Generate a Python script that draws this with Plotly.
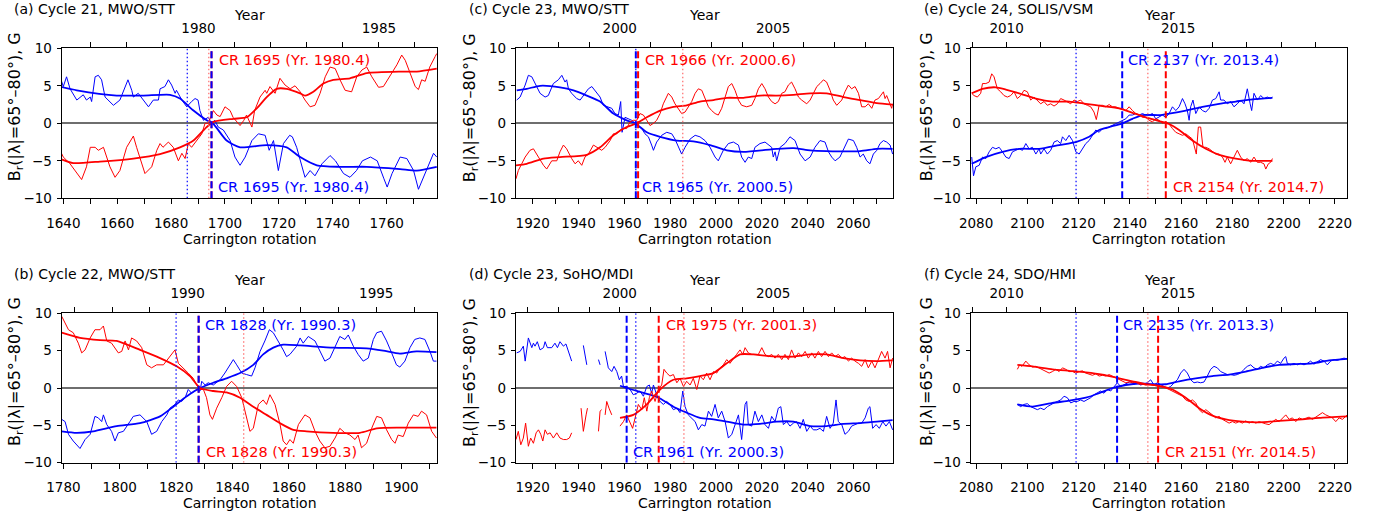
import plotly.graph_objects as go

W, H = 1379, 518
FONT = "DejaVu Sans"
BLUE = "#0000ff"
RED = "#ff0000"
RED_LIGHT = "#ff6a6a"

# ---------------- data: panel (a) Cycle 21, MWO/STT ----------------
A_BLUE_RAW_CR = [1638.8, 1640, 1641.2, 1642.5, 1645, 1647.4, 1648.6, 1650, 1650.5, 1651.8, 1653, 1654.2, 1655.5, 1658.6, 1661, 1664, 1665.4, 1666, 1667.8, 1671.6, 1673.4, 1675.3, 1675.9, 1677.7, 1679, 1680.2, 1681.5, 1682, 1684, 1685.8, 1687.6, 1688.9, 1690, 1690.7, 1692, 1693.8, 1695, 1696.2, 1697.5, 1699.4, 1701.9, 1703.7, 1705.6, 1707.5, 1710, 1712.4, 1714.9, 1716.4, 1718, 1719.8, 1721.7, 1724, 1725, 1726.6, 1729.7, 1731.6, 1733.4, 1736, 1739, 1741, 1744, 1746.4, 1748.8, 1751, 1754, 1756.5, 1759, 1760.2, 1762, 1765, 1767.5, 1770, 1771.8, 1773.7, 1776, 1777.4, 1778.6]
A_BLUE_RAW_B = [6.2, 4.9, 6.2, 4.6, 3.1, 3.8, 3.1, 3.5, 2.9, 6.2, 6.4, 5.8, 3.5, 2.4, 3.1, 5.8, 4.4, 3.5, 4.0, 2.2, 3.1, 3.1, 4.6, 4.9, 5.8, 5.1, 4.0, 4.4, 3.1, 2.2, 2.9, 3.3, 3.1, 1.7, 0.4, 0.8, 0.0, 0.4, -0.5, -0.9, -2.3, -4.5, -5.6, -4.5, -2.3, -1.4, -1.6, -3.6, -2.3, -6.3, -2.7, -1.6, -1.8, -3.2, -7.2, -6.3, -7.0, -5.4, -4.3, -5.0, -6.7, -7.2, -6.3, -5.0, -4.5, -5.0, -7.4, -8.5, -6.7, -4.5, -4.7, -6.3, -8.8, -7.2, -5.4, -4.0, -4.5]
A_BLUE_FIT_CR = [1638.5, 1645, 1659.8, 1669.7, 1679.6, 1683.3, 1688.3, 1693.2, 1695.7, 1700.6, 1705.6, 1715.5, 1722.9, 1727.9, 1734.1, 1742.7, 1752.6, 1765, 1771.2, 1778.6]
A_BLUE_FIT_B = [4.9, 4.4, 3.7, 3.7, 3.8, 3.3, 1.7, 0.4, -0.1, -2.3, -3.2, -2.9, -3.2, -4.5, -5.6, -5.8, -5.8, -6.1, -6.3, -5.8]
A_RED_RAW_CR = [1638.5, 1640, 1642.5, 1645, 1646.8, 1648.6, 1650, 1651.8, 1653, 1654.9, 1657.3, 1659.2, 1661, 1663.5, 1666, 1667.2, 1669, 1670.3, 1672.8, 1674.7, 1675.9, 1677, 1679, 1680.8, 1682.7, 1684, 1685.2, 1686.4, 1687.6, 1689.5, 1691.4, 1692.6, 1693.8, 1695.7, 1697, 1698.2, 1700, 1701.9, 1703, 1705.6, 1707, 1708, 1710, 1711, 1713, 1714.9, 1715.5, 1716.7, 1718.6, 1720.4, 1722.3, 1724.2, 1726, 1727.9, 1729.7, 1731.6, 1733.4, 1735.3, 1737.2, 1739, 1740.9, 1742.7, 1744.6, 1747, 1748.9, 1750.8, 1752.6, 1754.5, 1757, 1758.8, 1761.3, 1763.8, 1765.6, 1766.9, 1768.7, 1770.6, 1771.8, 1773, 1774.3, 1776, 1778, 1778.6]
A_RED_RAW_B = [-3.4, -4.5, -5.4, -6.7, -7.5, -5.8, -3.2, -3.2, -3.6, -3.2, -5.8, -7.2, -6.3, -3.2, -1.7, -3.2, -5.4, -6.7, -5.8, -3.6, -2.7, -3.2, -2.5, -3.2, -5.0, -4.0, -4.7, -2.7, -3.2, -2.3, -1.4, 0.0, 0.0, 1.7, 1.1, 0.9, 2.2, 1.7, 0.8, -0.3, 0.4, 1.1, -0.5, 1.7, 3.5, 4.4, 4.0, 4.9, 4.0, 6.0, 5.1, 4.6, 5.0, 4.2, 3.1, 2.2, 2.4, 4.0, 6.2, 7.5, 7.3, 5.8, 4.4, 4.2, 6.2, 7.1, 7.5, 6.2, 4.8, 4.9, 6.4, 7.8, 9.1, 8.4, 6.7, 4.9, 4.5, 5.8, 5.6, 7.5, 8.9, 9.3]
A_RED_FIT_CR = [1638.5, 1643.7, 1653.6, 1666, 1675.9, 1683.3, 1688.3, 1693.2, 1695.7, 1703.1, 1708.1, 1711.8, 1715.5, 1719.2, 1722.9, 1727.9, 1729.7, 1732.8, 1736.5, 1740.2, 1746.4, 1752.6, 1765, 1771.2, 1778.6]
A_RED_FIT_B = [-4.7, -5.3, -5.1, -4.7, -4.1, -3.2, -2.3, -0.5, 0.2, 0.6, 0.8, 2.0, 3.5, 4.6, 4.6, 4.0, 3.7, 4.2, 5.3, 5.8, 6.0, 6.7, 6.9, 6.9, 7.3]

# ---------------- data: panel (b) Cycle 22, MWO/STT ----------------
B_BLUE_RAW_CR = [1779.4, 1780.6, 1781.8, 1783.5, 1785.9, 1787.7, 1789.5, 1791.2, 1792.4, 1793.6, 1794.2, 1795.4, 1797.1, 1798.3, 1799.5, 1801.3, 1803.6, 1804.8, 1807.2, 1809.6, 1811.3, 1813.1, 1814.9, 1816.7, 1817.8, 1819.6, 1820.8, 1822, 1823.2, 1824.3, 1825.5, 1827.3, 1828.5, 1829.1, 1830.3, 1831.4, 1833.2, 1835.6, 1837.3, 1839.1, 1840.3, 1841.5, 1843.3, 1845, 1846.8, 1848, 1849.8, 1851.5, 1853.1, 1854.5, 1856.3, 1858, 1859.2, 1860.4, 1862.8, 1864, 1865.1, 1866.9, 1869.3, 1871, 1872.8, 1874.6, 1876.4, 1878.1, 1879.9, 1881.1, 1882.9, 1884.6, 1886.4, 1888.2, 1890, 1891.2, 1892.9, 1894.7, 1896.5, 1898.2, 1899.4, 1901.2, 1903, 1904.7, 1906.5, 1908.3, 1910.1, 1911.3, 1912.4]
B_BLUE_RAW_B = [-4.2, -4.5, -6.2, -7.1, -8.1, -6.9, -6.2, -3.8, -4.0, -4.5, -3.6, -4.9, -5.8, -7.1, -6.0, -5.8, -4.5, -3.8, -3.6, -4.5, -6.2, -5.8, -4.5, -3.6, -2.7, -2.2, -1.6, -1.8, -1.3, -0.2, -0.7, -0.2, -0.4, 0.9, 0.4, 0.7, 0.4, 1.1, 2.0, 3.1, 3.8, 3.1, 2.0, 1.8, 1.6, 2.7, 4.9, 6.3, 7.8, 7.4, 6.3, 5.1, 4.2, 4.5, 5.6, 6.7, 6.0, 6.9, 6.3, 4.9, 3.6, 4.0, 5.6, 6.9, 6.5, 7.1, 5.6, 4.5, 3.6, 4.0, 6.5, 7.4, 7.6, 6.3, 4.7, 3.1, 2.8, 3.6, 5.4, 6.5, 6.7, 6.5, 4.9, 3.6, 3.6]
B_BLUE_FIT_CR = [1779.4, 1784.7, 1790.6, 1798.9, 1807.2, 1814.3, 1819, 1823.8, 1828.5, 1833.2, 1837.9, 1842.7, 1847.4, 1850.9, 1854.5, 1858, 1864, 1875.8, 1887.6, 1893.5, 1899.4, 1905.3, 1912.4]
B_BLUE_FIT_B = [-5.8, -6.0, -5.8, -5.1, -4.7, -3.8, -2.5, -1.1, 0.0, 0.7, 1.3, 2.0, 3.1, 4.5, 5.4, 5.8, 5.7, 5.4, 5.3, 5.0, 4.6, 4.9, 4.8]
B_RED_RAW_CR = [1779.4, 1780.6, 1781.8, 1783.5, 1785.3, 1786.5, 1787.7, 1789.5, 1791.2, 1793, 1794.2, 1795.4, 1797.1, 1799.5, 1800.7, 1801.9, 1803.1, 1804.2, 1806, 1807.8, 1809.6, 1811.3, 1813.1, 1815.5, 1817.2, 1818.4, 1819.6, 1820.8, 1822.6, 1824.3, 1826.1, 1827.3, 1828.5, 1829.7, 1830.8, 1832, 1832.9, 1834.4, 1836.2, 1837.9, 1839.7, 1841.5, 1843.3, 1845, 1846.2, 1847.4, 1849.2, 1850.9, 1852.1, 1853.3, 1855.1, 1856.9, 1858, 1859.2, 1860.4, 1861.6, 1863.4, 1865.7, 1867.5, 1869.3, 1871, 1872.8, 1874.6, 1876.4, 1878.1, 1879.9, 1881.7, 1883.5, 1884.6, 1885.8, 1887.6, 1889.4, 1891.2, 1892.9, 1894.7, 1896.5, 1897.7, 1898.8, 1900.6, 1902.4, 1904.2, 1905.9, 1907.1, 1908.9, 1910.7, 1912.4]
B_RED_RAW_B = [9.6, 8.7, 7.8, 7.4, 6.0, 4.7, 5.1, 6.7, 7.8, 7.8, 8.3, 6.3, 6.0, 4.7, 4.9, 6.3, 5.1, 6.7, 6.3, 5.4, 3.1, 2.7, 3.1, 3.1, 4.0, 4.5, 5.1, 3.3, 2.7, 2.0, 1.3, 0.4, -0.2, -0.2, -1.3, -3.6, -4.2, -2.7, -1.3, 0.2, 0.9, 0.2, -1.3, -4.0, -5.8, -5.4, -2.2, -1.6, -2.2, -0.9, -2.2, -4.9, -7.1, -7.6, -6.9, -7.4, -4.9, -3.6, -4.0, -5.8, -7.1, -8.0, -7.8, -6.7, -5.4, -6.0, -6.3, -6.9, -6.3, -8.0, -7.4, -5.4, -3.8, -4.0, -5.6, -6.9, -7.4, -6.3, -6.5, -4.7, -3.6, -3.8, -3.1, -3.6, -5.8, -6.7]
B_RED_FIT_CR = [1779.4, 1785.9, 1793, 1798.9, 1807.2, 1814.3, 1820.2, 1824.9, 1828.5, 1833.2, 1837.9, 1842.7, 1847.4, 1852.1, 1856.8, 1861.6, 1866.3, 1875.8, 1885.2, 1891.2, 1899.4, 1912.4]
B_RED_FIT_B = [7.4, 6.7, 6.4, 6.3, 5.1, 4.0, 2.9, 1.6, 0.0, -0.4, -0.6, -1.3, -2.5, -3.6, -4.7, -5.6, -5.8, -6.0, -6.0, -5.4, -5.3, -5.3]

# ---------------- data: panel (c) Cycle 23, MWO/STT ----------------
C_BLUE_RAW_CR = [1913, 1914.5, 1916.7, 1918.1, 1919.6, 1921, 1923.2, 1925.4, 1926.8, 1929, 1931.2, 1932.7, 1934.1, 1934.8, 1935.6, 1937, 1939.2, 1940.7, 1942.8, 1944.3, 1945.8, 1947.2, 1949.4, 1950.8, 1953, 1954.5, 1955.9, 1957.4, 1958.4, 1959, 1960.3, 1961.8, 1963.2, 1964.7, 1966.1, 1967.6, 1969, 1970.5, 1971.9, 1972.7, 1974.1, 1976.3, 1978.5, 1980.7, 1982.1, 1983.6, 1985, 1986.5, 1988.7, 1990.9, 1993, 1995.2, 1997.4, 1999.6, 2001, 2003.2, 2005.4, 2007.6, 2009.8, 2011.2, 2012.7, 2014.1, 2015.6, 2017, 2019.2, 2021.4, 2022.9, 2024.3, 2025, 2025.8, 2026.5, 2028, 2030.1, 2032.3, 2034.5, 2036.7, 2038.9, 2041.1, 2043.2, 2045.4, 2047.6, 2049.1, 2050.5, 2052, 2054.1, 2056.3, 2057.8, 2060, 2061.4, 2062.9, 2064.3, 2065.8, 2067.2, 2068.7, 2070.2, 2071.6, 2073.1, 2074.5, 2076, 2077.1]
C_BLUE_RAW_B = [3.1, 3.5, 5.1, 6.4, 6.2, 5.3, 4.0, 3.5, 3.7, 5.3, 5.8, 6.4, 5.5, 5.8, 4.6, 4.0, 3.3, 3.1, 4.0, 4.6, 4.9, 4.4, 3.5, 2.4, 2.2, 2.0, 1.3, 1.1, 2.9, -1.2, 0.8, 0.6, 0.4, 0.0, -0.3, -0.7, -1.4, -1.8, -2.9, -3.6, -2.5, -1.6, -1.2, -1.4, -2.1, -3.2, -4.1, -3.2, -2.1, -1.6, -1.8, -2.3, -3.2, -4.5, -5.0, -3.6, -2.7, -2.5, -2.9, -4.5, -5.2, -4.5, -4.7, -3.2, -2.7, -2.5, -2.9, -3.2, -4.5, -3.8, -5.0, -3.2, -2.7, -1.8, -2.3, -4.1, -5.0, -4.5, -3.2, -2.3, -2.5, -3.8, -4.5, -5.0, -4.5, -3.2, -2.1, -2.3, -3.2, -4.5, -4.1, -5.0, -5.4, -4.1, -3.6, -2.7, -2.3, -2.5, -2.9, -4.1]
C_BLUE_FIT_CR = [1913, 1917.4, 1923.2, 1931.9, 1937.8, 1943.6, 1949.4, 1955.2, 1961, 1964.7, 1969.8, 1975.6, 1982.9, 1990.1, 1997.4, 2004.7, 2012, 2026.5, 2033.8, 2041.1, 2048.3, 2062.9, 2070.2, 2077.1]
C_BLUE_FIT_B = [4.4, 4.6, 5.0, 4.8, 4.4, 3.7, 2.9, 1.3, 0.4, 0.0, -1.2, -1.8, -2.3, -2.4, -2.9, -3.6, -3.8, -3.4, -3.3, -3.6, -3.7, -3.7, -3.4, -3.4]
C_RED_RAW_CR = [1912.7, 1913.7, 1915.2, 1916.7, 1918.8, 1920.3, 1922.5, 1924.7, 1926.1, 1928.3, 1930.5, 1931.9, 1933.4, 1934.8, 1937, 1938.5, 1939.9, 1941.4, 1942.8, 1944.3, 1946.5, 1947.9, 1950.1, 1951.6, 1953.8, 1955.2, 1956.7, 1958.1, 1959.6, 1961, 1962.5, 1963.9, 1965.4, 1966.8, 1968.3, 1969.8, 1971.2, 1972.7, 1974.1, 1975.6, 1977, 1979.2, 1980.7, 1982.1, 1983.6, 1985, 1986.5, 1987.9, 1989.4, 1990.9, 1992.3, 1993.8, 1995.2, 1996.7, 1998.1, 1999.6, 2001, 2002.5, 2004, 2005.4, 2006.9, 2008.3, 2009.8, 2011.2, 2013.4, 2015.6, 2017, 2018.5, 2020, 2021.4, 2022.9, 2024.3, 2025.8, 2027.2, 2028.7, 2030.1, 2031.6, 2033, 2034.5, 2036, 2037.4, 2039.6, 2041.1, 2042.5, 2044, 2045.4, 2046.9, 2048.3, 2049.8, 2051.2, 2052.7, 2054.9, 2056.3, 2057.8, 2059.2, 2060.7, 2062.2, 2063.6, 2065.1, 2066.5, 2068, 2069.4, 2070.9, 2073.1, 2073.8, 2074.5, 2076, 2076.7, 2077.1]
C_RED_RAW_B = [-7.4, -6.3, -5.4, -4.5, -3.6, -3.4, -4.5, -5.6, -6.1, -5.0, -5.0, -3.8, -2.9, -3.4, -4.7, -5.4, -5.0, -5.6, -4.5, -4.1, -2.9, -3.2, -3.6, -3.2, -2.3, -1.4, -1.4, -0.9, -0.7, -0.7, 0.2, 0.4, 0.4, 1.3, 1.1, 0.4, -0.3, 0.0, 0.4, 1.3, 2.6, 4.0, 3.5, 2.6, 2.0, 1.3, 1.5, 2.2, 2.9, 4.0, 4.6, 4.4, 3.3, 2.2, 1.7, 1.3, 1.1, 2.0, 3.5, 4.9, 5.3, 4.4, 3.1, 2.4, 2.2, 2.4, 3.3, 4.6, 5.3, 4.6, 3.5, 2.9, 2.6, 2.9, 4.0, 4.2, 5.1, 5.5, 4.6, 3.5, 3.1, 2.6, 3.1, 4.0, 4.9, 5.3, 5.8, 5.5, 4.4, 3.1, 2.4, 3.1, 4.2, 5.1, 4.6, 4.9, 4.0, 2.2, 2.2, 2.6, 2.0, 3.1, 3.3, 4.2, 3.3, 3.7, 2.6, 2.0, 2.6]
C_RED_FIT_CR = [1912.7, 1917.4, 1924.7, 1931.9, 1943.6, 1949.4, 1955.2, 1961, 1965.4, 1969.8, 1975.6, 1981.4, 1987.2, 1993, 1998.9, 2004.7, 2012, 2019.2, 2026.5, 2033.8, 2041.1, 2048.3, 2055.6, 2062.9, 2070.2, 2077.1]
C_RED_FIT_B = [-5.6, -5.4, -4.7, -4.5, -4.2, -3.2, -1.6, -0.5, 0.0, 0.8, 1.7, 2.2, 2.4, 2.9, 3.1, 3.4, 3.4, 3.7, 3.7, 3.8, 4.0, 4.0, 3.5, 3.1, 2.7, 2.5]

# ---------------- data: panel (d) Cycle 23, SoHO/MDI (None = data gap) ----------------
D_BLUE_RAW_CR = [1913, 1914.5, 1915.9, 1916.7, 1918.1, 1919.6, 1920.3, 1921, 1922, 1923.2, 1924.7, 1925.4, 1926.4, 1928.3, 1929.7, 1930.8, 1931.9, 1933.4, 1934.5, 1935.6, 1937, 1939.5,
                 1942.1, 1943.6, 1946,
                 1948.7, 1949.4, 1950.5,
                 1951.6, 1953, 1954.5, 1955.5, 1956.7, 1957.8, 1958.8, 1959.6, 1961, 1962.5, 1963.9, 1965.4, 1966.8, 1968.3, 1969.8, 1970.9, 1971.9, 1972.7, 1974.1, 1975.6, 1977, 1978.5, 1979.9, 1981.4, 1982.9, 1984.3, 1985.5, 1986.5, 1987.9, 1989.4, 1990.9, 1992.3, 1993.8, 1995.2, 1996.7, 1998.1, 1999.6, 2001, 2002.5, 2004, 2005.4, 2006.9, 2008.3, 2009.8, 2011.2, 2012.7, 2013.4, 2014.1, 2015.6, 2017, 2018.5, 2020, 2021.4, 2022.9, 2024.3, 2025.8, 2027.2, 2028.3, 2029.4, 2030.9, 2032.3, 2033.8, 2035.2, 2036.7, 2038.1, 2039.6, 2041.1, 2042.5, 2044, 2045.4, 2046.9, 2048.3, 2049.8, 2051.2, 2052.4, 2053.4, 2054.9, 2056.3, 2057.8, 2059.2, 2060.7, 2062.2, 2063.6, 2065.1, 2066.5, 2067.2, 2068.4, 2069.9, 2071.3, 2072.8, 2074.2, 2075.7, 2077.1]
D_BLUE_RAW_B = [4.7, 4.9, 5.6, 3.6, 6.7, 5.4, 6.0, 5.6, 6.2, 5.1, 5.4, 6.2, 5.4, 5.4, 6.0, 5.4, 6.2, 5.6, 5.9, 4.9, 3.6, None,
                5.7, 3.1, None,
                3.8, 3.1, None,
                4.9, 2.7, 2.2, 2.9, 2.2, 1.1, 1.6, 0.2, 0.2, -0.2, -0.9, -0.7, -0.4, -1.1, 0.2, 0.4, -0.7, 0.4, -0.9, -1.8, -2.2, -1.8, -2.2, -2.9, -2.7, -3.3, -0.4, -2.5, -3.6, -4.0, -4.5, -5.6, -4.9, -5.1, -3.1, -3.8, -2.2, -4.0, -3.1, -4.5, -6.7, -6.2, -4.9, -3.6, -6.9, -2.2, -1.8, -4.9, -5.1, -3.1, -4.5, -3.6, -4.9, -5.4, -3.8, -4.5, -2.7, -2.5, -4.9, -4.5, -5.1, -4.7, -4.5, -5.4, -4.2, -5.8, -5.1, -5.6, -5.6, -5.4, -5.8, -3.8, -5.4, -4.7, -1.6, -4.5, -4.9, -6.2, -5.8, -5.1, -4.9, -4.7, -4.7, -4.0, -2.7, -2.5, -5.4, -4.9, -5.4, -4.5, -5.1, -4.5, -5.6]
D_BLUE_FIT_CR = [1958.1, 1961, 1965.4, 1971.2, 1975.6, 1981.4, 1987.2, 1993, 1998.9, 2004.7, 2012, 2019.2, 2026.5, 2033.8, 2041.1, 2048.3, 2055.6, 2062.9, 2070.2, 2077.1]
D_BLUE_FIT_B = [0.3, 0.0, -0.4, -0.9, -1.4, -2.5, -3.3, -4.0, -4.2, -4.5, -4.9, -4.8, -4.5, -4.5, -5.1, -5.1, -4.8, -4.7, -4.5, -4.3]
D_RED_RAW_CR = [1912.7, 1913.7, 1914.8, 1915.9, 1916.9, 1918.1, 1919.1, 1920.3, 1921.5, 1922.5, 1923.5, 1924.4, 1925.4, 1926.4, 1927.6, 1929, 1930.5, 1931.9, 1933.4, 1934.8, 1936, 1937, 1939,
                1941.1, 1942.1, 1943.3, 1943.9, 1946,
                1948.7, 1949.4, 1950.1, 1950.8,
                1951.6, 1952.3, 1953.3, 1954.5, 1956,
                1958.1, 1959.6, 1961, 1962.5, 1963.6, 1964.7, 1966.1, 1967.6, 1968.7, 1969.8, 1970.9, 1971.9, 1973.4, 1974.9, 1976.3, 1977.3, 1978.5, 1979.9, 1981.4, 1982.9, 1984.3, 1985.8, 1987.2, 1988.7, 1990.1, 1991.6, 1993, 1994.5, 1995.9, 1997.4, 1998.9, 2000.3, 2001.8, 2003.2, 2004.7, 2006.1, 2007.6, 2009, 2010.5, 2011.7, 2012.7, 2014.1, 2015.6, 2017, 2018.5, 2020, 2021.4, 2022.9, 2024.3, 2025.8, 2027.2, 2028.7, 2030.1, 2031.6, 2033, 2034.5, 2036, 2037.4, 2038.9, 2040.3, 2041.8, 2043.2, 2044.7, 2046.1, 2047.6, 2049.1, 2050.5, 2052, 2053.4, 2054.9, 2056.3, 2057.8, 2059.2, 2060.7, 2062.2, 2063.6, 2065.1, 2066.5, 2068, 2069.4, 2070.9, 2072.3, 2073.8, 2074.9, 2076, 2077.1]
D_RED_RAW_B = [-6.9, -5.8, -7.6, -6.7, -4.7, -7.8, -6.7, -7.4, -6.0, -5.6, -6.2, -7.1, -5.6, -6.2, -6.0, -6.7, -6.0, -6.7, -6.9, -6.9, -6.7, -6.0, None,
               -2.7, -5.8, -3.6, -2.7, None,
               -5.8, -3.1, -2.9, None,
               -3.6, -1.8, -2.7, -3.6, None,
               -5.1, -4.5, -3.6, -4.7, -5.4, -4.0, -2.2, -2.9, -1.3, -3.1, -1.3, -0.4, -1.8, -0.2, 0.4, 2.5, 2.0, 1.6, 1.8, 0.7, 1.3, 0.2, 0.9, 0.4, 1.3, -0.2, 1.6, 1.1, 2.0, 1.1, 2.2, 2.0, 2.7, 3.1, 3.8, 3.3, 4.0, 4.5, 5.1, 4.5, 5.4, 4.7, 4.5, 4.5, 4.5, 5.4, 4.5, 4.2, 4.5, 4.0, 4.5, 3.8, 4.5, 3.8, 5.1, 4.0, 4.7, 4.2, 4.9, 4.0, 4.7, 4.0, 4.9, 4.2, 4.9, 4.2, 4.7, 4.2, 4.5, 4.0, 4.2, 3.6, 4.0, 3.6, 3.3, 2.9, 3.8, 2.7, 3.6, 2.7, 3.8, 4.9, 4.0, 4.9, 2.7, 4.0]
D_RED_FIT_CR = [1958.1, 1963.9, 1969.8, 1975.6, 1981.4, 1987.2, 1993, 1998.9, 2004.7, 2010.5, 2016.3, 2022.1, 2033.8, 2041.1, 2048.3, 2055.6, 2062.9, 2070.2, 2077.1]
D_RED_FIT_B = [-4.0, -3.6, -2.2, -0.2, 1.1, 1.3, 1.6, 2.0, 3.3, 4.5, 4.5, 4.3, 4.2, 4.5, 4.5, 4.0, 3.7, 3.6, 3.7]

# ---------------- data: panel (e) Cycle 24, SOLIS/VSM ----------------
E_BLUE_RAW_CR = [2078.3, 2079, 2079.9, 2081.2, 2082.5, 2083.8, 2085.1, 2086.4, 2087.7, 2089, 2090.3, 2091.6, 2092.9, 2094.2, 2095.5, 2096.8, 2098.1, 2099.4, 2100.7, 2102, 2103.3, 2104.6, 2105.2, 2106.5, 2107.8, 2109.1, 2110.4, 2111.7, 2113, 2113.7, 2115, 2116.3, 2117.6, 2118.9, 2120.2, 2121.5, 2122.8, 2124.1, 2125.4, 2126.7, 2128, 2129.3, 2130.6, 2131.9, 2133.2, 2134.5, 2135.8, 2137.1, 2138.4, 2139.7, 2141, 2142.3, 2143.6, 2144.9, 2146.2, 2147.5, 2148.8, 2150.1, 2151.4, 2152.7, 2154, 2155.3, 2156.6, 2157.9, 2159.2, 2160.5, 2161.5, 2162.4, 2163.1, 2163.7, 2164.6, 2165.7, 2167, 2168.3, 2169.6, 2170.9, 2172.2, 2173.5, 2174.8, 2175.4, 2176.7, 2178, 2179.3, 2180.6, 2181.9, 2183.2, 2184.5, 2185.8, 2186.9, 2187.5, 2188.4, 2189.7, 2191, 2192.3, 2193.6, 2194.9, 2195.6]
E_BLUE_RAW_B = [-4.5, -7.0, -5.8, -5.6, -4.5, -4.7, -3.8, -3.2, -3.4, -3.2, -3.8, -4.5, -4.7, -3.8, -3.6, -3.4, -3.6, -2.7, -3.4, -3.2, -4.1, -3.4, -4.1, -3.4, -4.1, -3.6, -2.5, -2.3, -2.7, -1.8, -2.3, -1.6, -2.3, -3.8, -4.1, -3.4, -2.7, -2.3, -1.6, -0.9, -1.2, -0.7, -0.7, -0.5, -0.3, 0.0, 0.2, 0.4, 0.6, 1.1, 1.1, 1.3, 1.1, 1.3, 1.1, 1.1, 1.3, 0.6, 0.8, 1.1, 0.8, 1.3, 2.2, 1.7, 2.2, 3.3, 2.6, 1.7, 0.4, 2.2, 3.1, 1.3, 2.2, 1.7, 1.5, 2.0, 3.1, 3.3, 4.2, 3.1, 3.1, 2.6, 2.9, 2.2, 2.6, 3.1, 2.6, 4.6, 2.6, 1.7, 4.0, 3.1, 3.7, 3.3, 3.5, 3.3, 3.5]
E_BLUE_FIT_CR = [2078.3, 2083.8, 2090.3, 2096.8, 2104.6, 2112.4, 2118.9, 2124.1, 2128, 2131.9, 2137.1, 2141, 2144.9, 2151.4, 2155.3, 2161.8, 2168.3, 2174.8, 2181.3, 2187.8, 2195.6]
E_BLUE_FIT_B = [-5.4, -4.5, -3.8, -3.4, -3.4, -2.9, -2.5, -1.8, -0.9, -0.5, 0.0, 0.6, 1.1, 1.1, 1.3, 1.7, 2.2, 2.6, 2.9, 3.2, 3.4]
E_RED_RAW_CR = [2078.3, 2079.2, 2080.5, 2081.8, 2082.5, 2083.8, 2085.1, 2086.1, 2087, 2088.3, 2089.6, 2090.9, 2092.2, 2093.5, 2094.8, 2096.1, 2097.4, 2098.7, 2100, 2101.3, 2102.6, 2103.9, 2105.2, 2106.5, 2107.8, 2109.1, 2110.4, 2111.7, 2113, 2114.3, 2115.6, 2116.9, 2118.2, 2119.5, 2120.8, 2122.1, 2123.4, 2124.7, 2126, 2126.9, 2128, 2129.3, 2130.6, 2131.9, 2133.2, 2134.5, 2135.8, 2137.1, 2138.4, 2139.7, 2141, 2142.3, 2143.6, 2144.9, 2146.2, 2147.5, 2148.8, 2149.4, 2150.1, 2151.4, 2152.7, 2154, 2155.3, 2156.6, 2157.9, 2159.2, 2160.5, 2161.8, 2163.1, 2164.4, 2165, 2165.9, 2166.7, 2167.6, 2168.5, 2169.6, 2170.9, 2172.2, 2173.5, 2174.8, 2176.1, 2177.1, 2178, 2179.3, 2180.6, 2181.9, 2183.2, 2184.5, 2185.8, 2187.1, 2188.4, 2189.7, 2191, 2192.3, 2193, 2194, 2194.9, 2195.6]
E_RED_RAW_B = [4.0, 3.7, 3.5, 4.0, 5.3, 5.3, 5.5, 6.6, 6.2, 4.6, 4.2, 3.7, 3.5, 3.7, 4.2, 3.3, 3.7, 4.4, 4.2, 3.1, 3.5, 3.1, 2.6, 2.9, 2.4, 2.6, 2.3, 2.6, 3.3, 3.1, 2.9, 2.6, 3.1, 2.9, 3.1, 2.6, 2.4, 2.2, 1.5, 0.5, 2.4, 2.4, 2.2, 2.5, 2.2, 2.2, 2.0, 2.0, 1.7, 2.2, 1.7, 1.3, 1.1, 0.8, 0.8, 0.4, 0.2, 0.4, 0.6, 0.4, 0.0, 0.2, -0.1, -0.7, -1.2, -1.4, -1.6, -1.4, -1.8, -2.1, -2.9, -4.1, -0.5, -0.5, -3.2, -3.2, -3.4, -3.8, -4.1, -4.1, -4.5, -5.2, -4.5, -5.4, -4.5, -3.6, -4.5, -5.0, -4.7, -5.2, -4.5, -5.2, -5.2, -5.4, -6.1, -5.4, -5.2, -4.7]
E_RED_FIT_CR = [2078.3, 2082.5, 2087.7, 2091.6, 2096.8, 2103.3, 2109.8, 2116.3, 2122.8, 2129.3, 2135.8, 2141, 2146.2, 2151.4, 2155.3, 2159.2, 2164.4, 2169.6, 2174.8, 2181.3, 2187.8, 2195.6]
E_RED_FIT_B = [4.0, 4.6, 4.8, 4.5, 4.0, 3.3, 2.9, 2.9, 2.6, 2.3, 2.0, 1.4, 0.8, 0.3, -0.1, -0.9, -2.3, -3.4, -4.2, -4.7, -5.0, -5.0]

# ---------------- data: panel (f) Cycle 24, SDO/HMI ----------------
F_BLUE_RAW_CR = [2096.1, 2097.4, 2098.7, 2100, 2101.3, 2102.6, 2103.9, 2105.2, 2106.5, 2107.8, 2109.1, 2110.4, 2111.7, 2113, 2114.3, 2115.6, 2116.9, 2118.2, 2119.5, 2120.8, 2122.1, 2123.4, 2124.7, 2126, 2127.3, 2128.6, 2129.9, 2131.2, 2132.5, 2133.8, 2135.1, 2136.4, 2137.7, 2139, 2140.3, 2141.6, 2142.9, 2144.2, 2145.5, 2146.8, 2148.1, 2149.4, 2150.7, 2152, 2153.3, 2154.6, 2155.9, 2157.2, 2158.5, 2159.8, 2161.1, 2162.4, 2163.7, 2165, 2166.3, 2167.6, 2168.9, 2170.2, 2171.5, 2172.8, 2174.1, 2175.4, 2176.7, 2178, 2179.3, 2180.6, 2181.9, 2183.2, 2184.5, 2185.8, 2187.1, 2188.4, 2189.7, 2191, 2192.3, 2193.6, 2194.9, 2196.2, 2197.5, 2198.8, 2200.1, 2200.8, 2201.4, 2202.7, 2204, 2205.3, 2206.6, 2207.9, 2209.2, 2210.5, 2211.8, 2213.1, 2214.4, 2215.7, 2217, 2218.3, 2219.6, 2220.9, 2222.2, 2223.5, 2224.8]
F_BLUE_RAW_B = [-2.2, -2.5, -2.2, -2.1, -2.5, -2.7, -2.9, -2.7, -2.9, -2.5, -2.2, -2.0, -1.8, -1.6, -1.1, -1.3, -2.0, -1.8, -1.8, -1.6, -1.8, -1.6, -1.3, -0.9, -0.7, -0.4, -0.7, -0.2, -0.4, 0.2, 0.7, 0.2, 0.4, 0.7, 0.9, 0.5, 0.7, 0.4, 0.5, 0.7, 1.1, 0.4, 0.7, 0.4, 0.2, 0.0, 0.2, 0.7, 1.1, 2.0, 2.5, 2.0, 1.1, 0.7, 0.8, 0.7, 0.8, 1.6, 2.5, 2.9, 2.7, 2.2, 2.0, 1.8, 1.8, 1.7, 1.8, 2.0, 2.5, 2.9, 3.1, 2.7, 2.5, 2.9, 2.7, 3.1, 3.3, 3.1, 3.6, 3.3, 4.0, 4.2, 3.3, 3.1, 3.3, 3.1, 3.3, 3.1, 3.3, 3.6, 3.2, 3.5, 3.8, 3.6, 3.1, 3.6, 3.8, 3.7, 3.8, 4.0, 3.9]
F_BLUE_FIT_CR = [2096.1, 2102, 2109.8, 2116.3, 2122.8, 2128, 2133.2, 2138.4, 2143.6, 2148.8, 2154, 2159.2, 2165.7, 2172.2, 2178.7, 2185.2, 2191.7, 2198.2, 2204.7, 2211.2, 2217.7, 2224.8]
F_BLUE_FIT_B = [-2.2, -2.5, -2.0, -1.7, -1.3, -0.7, 0.0, 0.4, 0.6, 0.5, 0.5, 0.9, 1.3, 1.6, 1.8, 2.2, 2.7, 3.1, 3.2, 3.3, 3.7, 3.9]
F_RED_RAW_CR = [2096.1, 2097, 2097.9, 2099.4, 2100.7, 2102, 2103.3, 2104.6, 2105.9, 2107.2, 2108.5, 2109.8, 2111.1, 2112.4, 2113.7, 2115, 2116.3, 2117.6, 2118.9, 2120.2, 2121.5, 2122.8, 2124.1, 2125.4, 2126.7, 2128, 2129.3, 2130.6, 2131.9, 2133.2, 2134.5, 2135.8, 2137.1, 2138.4, 2139.7, 2141, 2142.3, 2143.6, 2144.9, 2146.2, 2147.5, 2148.8, 2150.1, 2151.4, 2152.7, 2154, 2155.3, 2156.6, 2157.9, 2159.2, 2160.5, 2161.8, 2163.1, 2164.4, 2165.7, 2167, 2168.3, 2169.6, 2170.9, 2172.2, 2173.5, 2174.8, 2176.1, 2177.4, 2178.7, 2180, 2181.3, 2182.6, 2183.9, 2185.2, 2186.5, 2187.8, 2189.1, 2190.4, 2191.7, 2193, 2194.3, 2195.6, 2196.9, 2198.2, 2199.5, 2200.8, 2202.1, 2203.4, 2204.7, 2206, 2207.3, 2208.6, 2209.9, 2211.2, 2212.5, 2213.8, 2215.1, 2216.4, 2217.7, 2219, 2220.3, 2221.6, 2222.9, 2224.8]
F_RED_RAW_B = [2.5, 3.1, 2.9, 3.6, 3.1, 2.8, 2.9, 2.7, 2.5, 2.2, 2.0, 2.2, 2.5, 2.2, 2.7, 2.5, 2.2, 2.2, 2.0, 2.2, 2.3, 2.0, 1.8, 1.7, 1.9, 1.6, 1.7, 1.6, 1.8, 1.6, 1.3, 1.1, 0.9, 0.7, 0.8, 0.7, 0.8, 0.5, 0.5, 0.4, 0.5, 0.4, 0.4, 0.2, 0.1, 0.0, -0.2, -0.4, -0.7, -0.9, -1.1, -1.6, -1.8, -1.6, -2.0, -2.9, -3.3, -2.9, -3.2, -3.6, -4.0, -3.8, -4.2, -4.5, -4.7, -4.5, -4.7, -4.5, -4.7, -4.4, -4.7, -4.5, -4.7, -4.5, -4.7, -4.8, -4.9, -4.5, -4.2, -4.5, -4.0, -3.6, -4.2, -4.0, -4.5, -4.0, -4.2, -4.0, -3.9, -4.2, -3.9, -3.6, -3.3, -3.6, -3.8, -4.0, -4.5, -4.0, -4.2, -3.6]
F_RED_FIT_CR = [2096.1, 2102, 2109.8, 2116.3, 2122.8, 2129.3, 2135.8, 2141, 2146.2, 2151.4, 2156.6, 2161.8, 2167, 2172.2, 2177.4, 2183.9, 2190.4, 2198.2, 2207.3, 2213.8, 2224.8]
F_RED_FIT_B = [3.1, 2.9, 2.5, 2.3, 2.1, 1.8, 1.3, 0.9, 0.5, 0.3, -0.2, -1.3, -2.7, -3.7, -4.2, -4.5, -4.6, -4.4, -4.2, -4.0, -3.8]

# ---------------- per-panel metadata (order a, c, e, b, d, f) ----------------
PANEL_TITLES = ["(a) Cycle 21, MWO/STT", "(c) Cycle 23, MWO/STT", "(e) Cycle 24, SOLIS/VSM",
                "(b) Cycle 22, MWO/STT", "(d) Cycle 23, SoHO/MDI", "(f) Cycle 24, SDO/HMI"]
CR_RANGES = [[1639.4, 1778.8], [1912.7, 2077.4], [2077.9, 2224.8],
             [1779.4, 1912.7], [1912.7, 2077.4], [2077.9, 2224.8]]
REV_BLUE_CR = [1695, 1965, 2137, 1828, 1961, 2135]
REV_BLUE_YR = [1980.4, 2000.5, 2013.4, 1990.3, 2000.3, 2013.3]
REV_RED_CR = [1695, 1966, 2154, 1828, 1975, 2151]
REV_RED_YR = [1980.4, 2000.6, 2014.7, 1990.3, 2001.3, 2014.5]
DOT_BLUE_CR = [1686, 1965, 2119, 1820, 1965, 2119]
DOT_RED_CR = [1694, 1985.5, 2147, 1844, 1986, 2147]
BLUE_LABEL_TOP = [False, False, True, True, False, True]

SERIES = [
    (A_BLUE_RAW_CR, A_BLUE_RAW_B, A_BLUE_FIT_CR, A_BLUE_FIT_B, A_RED_RAW_CR, A_RED_RAW_B, A_RED_FIT_CR, A_RED_FIT_B),
    (C_BLUE_RAW_CR, C_BLUE_RAW_B, C_BLUE_FIT_CR, C_BLUE_FIT_B, C_RED_RAW_CR, C_RED_RAW_B, C_RED_FIT_CR, C_RED_FIT_B),
    (E_BLUE_RAW_CR, E_BLUE_RAW_B, E_BLUE_FIT_CR, E_BLUE_FIT_B, E_RED_RAW_CR, E_RED_RAW_B, E_RED_FIT_CR, E_RED_FIT_B),
    (B_BLUE_RAW_CR, B_BLUE_RAW_B, B_BLUE_FIT_CR, B_BLUE_FIT_B, B_RED_RAW_CR, B_RED_RAW_B, B_RED_FIT_CR, B_RED_FIT_B),
    (D_BLUE_RAW_CR, D_BLUE_RAW_B, D_BLUE_FIT_CR, D_BLUE_FIT_B, D_RED_RAW_CR, D_RED_RAW_B, D_RED_FIT_CR, D_RED_FIT_B),
    (F_BLUE_RAW_CR, F_BLUE_RAW_B, F_BLUE_FIT_CR, F_BLUE_FIT_B, F_RED_RAW_CR, F_RED_RAW_B, F_RED_FIT_CR, F_RED_FIT_B),
]

# ---------------- layout geometry (pixels) ----------------
COL_PX = [(61.7, 437.3), (516.0, 893.3), (970.7, 1347.3)]
ROW_PX = [(48.3, 198.3), (313.3, 462.7)]
YTITLE_X_PX = [15, 470, 927]
TITLE_X_PX = [12, 467, 922]


def cr_to_year(cr):
    return 2000.0 + (2398140.227 + 27.2752316 * cr - 2451545.0) / 365.25


def px_x(p):
    return p / W


def px_y(p):
    return 1 - p / H


fig = go.Figure()
layout = dict(
    width=W, height=H, margin=dict(l=0, r=0, t=0, b=0, autoexpand=False),
    paper_bgcolor="white", plot_bgcolor="white", showlegend=False,
    font=dict(family=FONT, size=13, color="black"),
)
annotations = []
shapes = []
TICKFONT = dict(family=FONT, size=13.5, color="black")

for i in range(6):
    n = i + 1
    row, col = divmod(i, 3)
    x0p, x1p = COL_PX[col]
    y0p, y1p = ROW_PX[row]
    xd = [px_x(x0p), px_x(x1p)]
    yd = [px_y(y1p), px_y(y0p)]
    xa, ya, xt = f"x{n}", f"y{n}", f"x{n + 6}"
    cr0, cr1 = CR_RANGES[i]

    layout[f"xaxis{n}"] = dict(
        domain=xd, anchor=ya, range=[cr0, cr1], showgrid=False, zeroline=False, automargin=False,
        showline=True, linecolor="black", linewidth=1.2, mirror=False,
        ticks="outside", ticklen=5, tickwidth=1, tickcolor="black", dtick=20, tick0=0,
        minor=dict(dtick=10, tick0=0, ticks="outside", ticklen=5, tickwidth=1, tickcolor="black"),
        tickfont=TICKFONT, ticklabelstandoff=7,
    )
    layout[f"yaxis{n}"] = dict(
        domain=yd, anchor=xa, range=[-10, 10], showgrid=False, automargin=False,
        zeroline=True, zerolinecolor="#6e6e6e", zerolinewidth=1.6,
        showline=True, linecolor="black", linewidth=1.2, mirror=True,
        ticks="outside", ticklen=4, tickcolor="black", dtick=5, tick0=0,
        tickfont=TICKFONT, ticklabelstandoff=2,
    )
    layout[f"xaxis{n + 6}"] = dict(
        overlaying=xa, anchor=ya, side="top", automargin=False,
        range=[cr_to_year(cr0), cr_to_year(cr1)], showgrid=False, zeroline=False,
        showline=True, linecolor="black", linewidth=1.2,
        ticks="outside", ticklen=5, tickwidth=1, tickcolor="black", dtick=5, tick0=0,
        minor=dict(dtick=1, tick0=0, ticks="outside", ticklen=5, tickwidth=1, tickcolor="black"),
        tickfont=TICKFONT, ticklabelstandoff=4,
    )

    # invisible trace to attach the year axis
    fig.add_trace(go.Scatter(x=[cr_to_year(cr0), cr_to_year(cr1)], y=[None, None],
                             xaxis=xt, yaxis=ya, mode="lines", hoverinfo="skip", showlegend=False))

    bxr, byr, bxf, byf, rxr, ryr, rxf, ryf = SERIES[i]
    fig.add_trace(go.Scatter(x=bxr, y=byr, xaxis=xa, yaxis=ya, mode="lines",
                             line=dict(color=BLUE, width=1.0), connectgaps=False))
    fig.add_trace(go.Scatter(x=bxf, y=byf, xaxis=xa, yaxis=ya, mode="lines",
                             line=dict(color=BLUE, width=1.8, shape="spline", smoothing=0.6)))
    fig.add_trace(go.Scatter(x=rxr, y=ryr, xaxis=xa, yaxis=ya, mode="lines",
                             line=dict(color=RED, width=1.0), connectgaps=False))
    fig.add_trace(go.Scatter(x=rxf, y=ryf, xaxis=xa, yaxis=ya, mode="lines",
                             line=dict(color=RED, width=1.8, shape="spline", smoothing=0.6)))

    # vertical marker lines
    for xv, colr, dash, w in [(DOT_BLUE_CR[i], BLUE, "1.5px,2.5px", 1.2),
                              (DOT_RED_CR[i], RED_LIGHT, "1.5px,2.5px", 1.2),
                              (REV_RED_CR[i], RED, "7px,3px", 2),
                              (REV_BLUE_CR[i], BLUE, "7px,3px", 2)]:
        shapes.append(dict(type="line", xref=xa, yref=ya, x0=xv, x1=xv, y0=-10, y1=10,
                           line=dict(color=colr, width=w, dash=dash)))

    # reversal labels
    btop = BLUE_LABEL_TOP[i]
    annotations.append(dict(text=f"CR {REV_BLUE_CR[i]} (Yr. {REV_BLUE_YR[i]})", xref=xa, yref=ya,
                            x=REV_BLUE_CR[i], y=8.4 if btop else -8.55, xanchor="left", yanchor="middle",
                            xshift=4, showarrow=False, font=dict(family=FONT, size=14.5, color=BLUE)))
    annotations.append(dict(text=f"CR {REV_RED_CR[i]} (Yr. {REV_RED_YR[i]})", xref=xa, yref=ya,
                            x=REV_RED_CR[i], y=-8.55 if btop else 8.4, xanchor="left", yanchor="middle",
                            xshift=5, showarrow=False, font=dict(family=FONT, size=14.5, color=RED)))

    # panel title, 'Year', 'Carrington rotation', y title
    annotations.append(dict(text=PANEL_TITLES[i], xref="paper", yref="paper",
                            x=px_x(TITLE_X_PX[col]), y=px_y(y0p - 39.5), xanchor="left", yanchor="middle",
                            showarrow=False, font=dict(family=FONT, size=14, color="black")))
    annotations.append(dict(text="Year", xref="paper", yref="paper",
                            x=px_x((x0p + x1p) / 2), y=px_y(y0p - 33), xanchor="center", yanchor="middle",
                            showarrow=False, font=dict(family=FONT, size=14, color="black")))
    annotations.append(dict(text="Carrington rotation", xref="paper", yref="paper",
                            x=px_x((x0p + x1p) / 2), y=px_y(y1p + 40.5), xanchor="center", yanchor="middle",
                            showarrow=False, font=dict(family=FONT, size=14, color="black")))
    annotations.append(dict(text="B<sub>r</sub>(|λ|=65°–80°), G", xref="paper", yref="paper",
                            x=px_x(YTITLE_X_PX[col]), y=px_y((y0p + y1p) / 2 - 16), xanchor="center",
                            yanchor="middle", textangle=-90, showarrow=False,
                            font=dict(family=FONT, size=16, color="black")))

layout["annotations"] = annotations
layout["shapes"] = shapes
fig.update_layout(**layout)
fig.write_html("out.html", config={"displayModeBar": False},
               post_script="document.body.style.margin='0';document.body.style.overflow='hidden';")
